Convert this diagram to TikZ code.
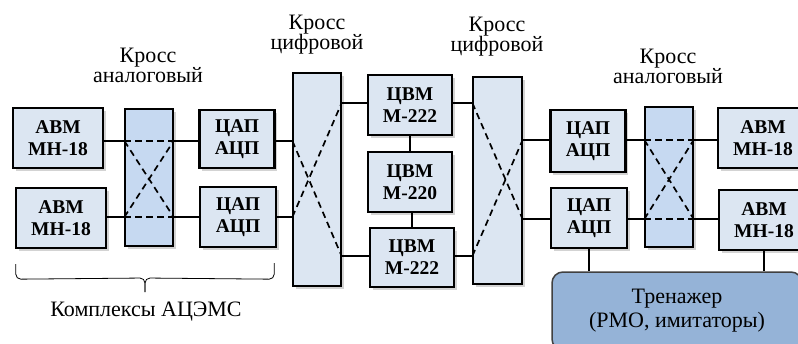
\documentclass[tikz,border=0pt]{standalone}
\usepackage{fontspec}
\setmainfont{Liberation Serif}
\newfontfamily\timesfont{Liberation Serif}
\usetikzlibrary{positioning,shadows}

\definecolor{unitfill}{HTML}{DCE6F2}
\definecolor{afill}{HTML}{C6D9F1}
\definecolor{dfill}{HTML}{DCE6F2}
\definecolor{trfill}{HTML}{95B3D7}

\tikzset{
  shade/.style={drop shadow={opacity=0.35,shadow xshift=2.5pt,shadow yshift=-2.5pt}},
  unit/.style={draw,line width=2.4pt,fill=unitfill,shade,align=center,inner sep=0pt,
    font=\timesfont\fontsize{19.5}{22}\selectfont\bfseries,minimum height=60pt},
  xbox/.style={draw,line width=1.2pt,shade,inner sep=0pt},
  lbl/.style={align=center,inner sep=0pt,font=\timesfont\fontsize{22}{20}\selectfont},
  wire/.style={line width=1.4pt},
  xline/.style={line width=1.7pt,dash pattern=on 6.5pt off 4.5pt}
}

\begin{document}
\begin{tikzpicture}[x=1pt,y=-1pt]

  \useasboundingbox (0,0) rectangle (798,343);

  % --- signal rows ---
  \coordinate (rA) at (0,141);
  \coordinate (rB) at (0,217);
  \coordinate (rC) at (0,103);
  \coordinate (rD) at (0,256);
  \coordinate (rE) at (0,140);
  \coordinate (rF) at (0,219);

  % --- analog computers and converters, left ---
  \node[unit,minimum width=90pt] (abmL1) at (58,138) {АВМ\\МН-18};
  \node[unit,minimum width=90pt] (abmL2) at (61,218) {АВМ\\МН-18};
  \node[xbox,fill=afill,minimum width=48pt,minimum height=137pt] (xaL) at (149,177.5) {};
  \node[unit,minimum width=75pt,minimum height=58pt] (capL1) at (237,139) {ЦАП\\АЦП};
  \node[unit,minimum width=76pt] (capL2) at (238,217) {ЦАП\\АЦП};

  % --- digital crosses and computers ---
  \node[xbox,fill=dfill,minimum width=48pt,minimum height=213pt] (xd1) at (317,179.5) {};
  \node[unit,minimum width=84pt] (cvm1) at (410,105) {ЦВМ\\М-222};
  \node[unit,minimum width=84pt] (cvm2) at (410,182) {ЦВМ\\М-220};
  \node[unit,minimum width=84pt,minimum height=59pt] (cvm3) at (412,257.5) {ЦВМ\\М-222};
  \node[xbox,fill=dfill,minimum width=49pt,minimum height=207pt] (xd2) at (497.5,180.5) {};

  % --- converters and analog computers, right ---
  \node[unit,minimum width=75pt,minimum height=62pt] (capR1) at (588,141) {ЦАП\\АЦП};
  \node[unit,minimum width=76pt] (capR2) at (589,218) {ЦАП\\АЦП};
  \node[xbox,fill=afill,minimum width=48pt,minimum height=140pt] (xaR) at (669,177) {};
  \node[unit,minimum width=90pt] (abmR1) at (763,138) {АВМ\\МН-18};
  \node[unit,minimum width=90pt] (abmR2) at (764,220) {АВМ\\МН-18};

  % --- trainer (runs off the page edge) ---
  \node[draw=black!75,line width=1.5pt,fill=trfill,rounded corners=11pt,shade,
    minimum width=250pt,minimum height=78pt,align=center,
    font=\timesfont\fontsize{22}{24}\selectfont] (trn) at (677,311) {Тренажер\\(РМО, имитаторы)};

  % --- cross captions ---
  \node[lbl] (cxaL) at (148,65) {Кросс\\аналоговый};
  \node[lbl] (cxd1) at (317,35) {Кросс\\цифровой};
  \node[lbl] (cxd2) at (497,37) {Кросс\\цифровой};
  \node[lbl] (cxaR) at (668,66) {Кросс\\аналоговый};

  % --- wires ---
  \draw[wire] (abmL1.east |- rA) -- (xaL.west |- rA);
  \draw[wire] (abmL2.east |- rB) -- (xaL.west |- rB);
  \draw[wire] (xaL.east |- rA) -- (capL1.west |- rA);
  \draw[wire] (xaL.east |- rB) -- (capL2.west |- rB);
  \draw[wire] (capL1.east |- rA) -- (xd1.west |- rA);
  \draw[wire] (capL2.east |- rB) -- (xd1.west |- rB);
  \draw[wire] (xd1.east |- rC) -- (cvm1.west |- rC);
  \draw[wire] (xd1.east |- rD) -- (cvm3.west |- rD);
  \draw[wire] (cvm1.east |- rC) -- (xd2.west |- rC);
  \draw[wire] (cvm3.east |- rD) -- (xd2.west |- rD);
  \draw[wire] (cvm1.south) -- (cvm2.north);
  \draw[wire] (cvm2.south -| cvm3.north) -- (cvm3.north);
  \draw[wire] (xd2.east |- rE) -- (capR1.west |- rE);
  \draw[wire] (xd2.east |- rF) -- (capR2.west |- rF);
  \draw[wire] (capR1.east |- rE) -- (xaR.west |- rE);
  \draw[wire] (capR2.east |- rF) -- (xaR.west |- rF);
  \draw[wire] (xaR.east |- rE) -- (abmR1.west |- rE);
  \draw[wire] (xaR.east |- rF) -- (abmR2.west |- rF);
  \draw[wire] (capR2.south) -- (capR2.south |- trn.north);
  \draw[wire] (abmR2.south) -- (abmR2.south |- trn.north);

  % --- switching paths inside the crosses ---
  \foreach \x/\u/\v in {xaL/rA/rB, xaR/rE/rF} {
    \draw[xline] (\x.west |- \u) -- (\x.east |- \u);
    \draw[xline] (\x.west |- \v) -- (\x.east |- \v);
    \draw[xline] (\x.west |- \u) -- (\x.east |- \v);
    \draw[xline] (\x.west |- \v) -- (\x.east |- \u);
  }
  \draw[xline] (xd1.west |- rA) -- (xd1.east |- rD);
  \draw[xline] (xd1.west |- rB) -- (xd1.east |- rC);
  \draw[xline] (xd2.west |- rC) -- (xd2.east |- rF);
  \draw[xline] (xd2.west |- rD) -- (xd2.east |- rE);

  % --- brace under the left group ---
  \coordinate (bL) at (abmL2.south west);
  \coordinate (bR) at (capL2.south east);
  \draw[line width=0.8pt,rounded corners=5pt]
    ([xshift=1pt,yshift=-15pt]bL) -- ([xshift=1pt,yshift=-30pt]bL) -- (145,278) -- (145,292);
  \draw[line width=0.8pt,rounded corners=5pt]
    ([xshift=-3pt,yshift=-15pt]bR) -- ([xshift=-3pt,yshift=-31pt]bR) -- (145,278) -- (145,292);
  \node[lbl] (grp) at (146,312) {Комплексы АЦЭМС};

\end{tikzpicture}
\end{document}
